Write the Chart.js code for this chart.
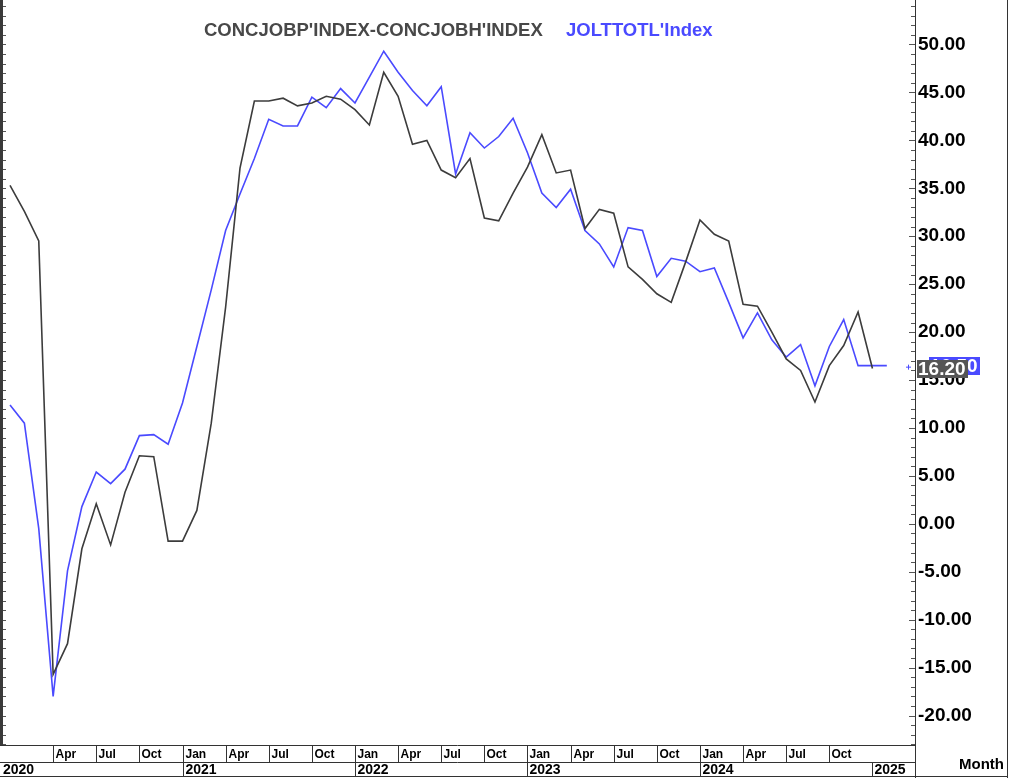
<!DOCTYPE html>
<html>
<head>
<meta charset="utf-8">
<script src="https://cdn.jsdelivr.net/npm/chart.js@4.4.1/dist/chart.umd.min.js"></script>
<style>
  html, body { margin: 0; padding: 0; background: #fff; }
  #wrap { width: 1011px; height: 778px; }
</style>
</head>
<body>
<div id="wrap"><canvas id="chart" width="1011" height="778"></canvas></div>
<script>
// monthly, Jan 2020 onwards
const spreadLabel = "CONCJOBP'INDEX-CONCJOBH'INDEX";
const joltsLabel = "JOLTTOTL'Index";

const spreadValues = [
  35.3, 32.6, 29.5, -15.7, -12.5, -2.6, 2.1, -2.2, 3.3, 7.1, 7.0, -1.8,
  -1.8, 1.4, 10.5, 22.6, 37.1, 44.1, 44.1, 44.4, 43.6, 43.9, 44.6, 44.3,
  43.2, 41.6, 47.1, 44.6, 39.6, 40.0, 36.9, 36.1, 38.1, 31.9, 31.6, 34.5,
  37.2, 40.6, 36.6, 36.9, 30.8, 32.8, 32.4, 26.8, 25.5, 24.0, 23.1, 27.3,
  31.7, 30.2, 29.5, 22.9, 22.7, 20.0, 17.2, 16.0, 12.7, 16.5, 18.6, 22.1,
  16.2
];

const joltsValues = [
  12.4, 10.5, -0.5, -18.0, -4.9, 1.8, 5.4, 4.2, 5.7, 9.2, 9.3, 8.3,
  12.6, 18.5, 24.4, 30.6, 34.4, 38.1, 42.2, 41.5, 41.5, 44.5, 43.4, 45.4,
  43.9, 46.6, 49.3, 47.1, 45.2, 43.6, 45.6, 36.5, 40.8, 39.2, 40.4, 42.3,
  38.7, 34.5, 33.0, 34.9, 30.6, 29.2, 26.8, 30.9, 30.6, 25.8, 27.7, 27.4,
  26.3, 26.7, 23.1, 19.4, 22.0, 19.2, 17.4, 18.7, 14.4, 18.5, 21.3, 16.5,
  16.5, 16.5
];

const yTicks = [-20, -15, -10, -5, 0, 5, 10, 15, 20, 25, 30, 35, 40, 45, 50];
const quarterLabels = [
  'Apr', 'Jul', 'Oct', 'Jan', 'Apr', 'Jul', 'Oct', 'Jan', 'Apr', 'Jul', 'Oct',
  'Jan', 'Apr', 'Jul', 'Oct', 'Jan', 'Apr', 'Jul', 'Oct'
];
const yearLabels = ['2020', '2021', '2022', '2023', '2024', '2025'];

const spreadColor = '#3c3c3c';
const joltsColor = '#4a4aff';

function toPoints(values) {
  return values.map((v, i) => ({ x: i, y: v }));
}

// pick the narrow font if it is installed
function pickFont(wanted, fallback) {
  const c = document.createElement('canvas').getContext('2d');
  c.font = `bold 16px ${wanted}, monospace`;
  const a = c.measureText('Apr 2020 Month').width;
  c.font = 'bold 16px monospace';
  const b = c.measureText('Apr 2020 Month').width;
  return a !== b ? wanted : fallback;
}
const narrow = pickFont('"Liberation Sans Narrow"', null);

const frame = {
  id: 'frame',
  afterDraw(chart) {
    const { ctx, chartArea: a, scales: { x, y } } = chart;
    ctx.save();

    // left edge with minor ticks
    ctx.strokeStyle = '#3a3a3a';
    ctx.lineWidth = 3;
    ctx.beginPath(); ctx.moveTo(1.5, 0); ctx.lineTo(1.5, a.bottom); ctx.stroke();
    ctx.lineWidth = 1;
    ctx.strokeStyle = '#555';
    ctx.beginPath();
    for (let v = -23; v <= 54; v++) {
      const py = Math.round(y.getPixelForValue(v)) + 0.5;
      ctx.moveTo(3, py); ctx.lineTo(6, py);
      ctx.moveTo(a.right - (v % 5 === 0 ? 6 : 4), py); ctx.lineTo(a.right, py);
    }
    ctx.stroke();

    // right axis line, outer frame
    ctx.strokeStyle = '#333';
    ctx.beginPath();
    ctx.moveTo(a.right + 0.5, 0); ctx.lineTo(a.right + 0.5, 778);
    ctx.moveTo(1007.5, 0); ctx.lineTo(1007.5, 778);
    ctx.moveTo(0, 776.5); ctx.lineTo(1008, 776.5);
    ctx.moveTo(0, a.bottom + 0.5); ctx.lineTo(a.right, a.bottom + 0.5);
    ctx.moveTo(0, 762.5); ctx.lineTo(a.right, 762.5);
    ctx.stroke();

    // time axis
    const smallFont = narrow ? `bold 15px ${narrow}` : 'bold 12px "Liberation Sans", Arial';
    const yearFont = narrow ? `bold 17px ${narrow}` : 'bold 14px "Liberation Sans", Arial';
    ctx.fillStyle = '#000';
    ctx.textBaseline = 'middle';
    ctx.textAlign = 'left';
    ctx.beginPath();
    quarterLabels.forEach((lab, k) => {
      const px = Math.round(x.getPixelForValue((k + 1) * 3)) + 0.5;
      ctx.moveTo(px, a.bottom); ctx.lineTo(px, 762);
      ctx.font = smallFont;
      ctx.fillText(lab, px + 2, 755);
    });
    yearLabels.forEach((lab, k) => {
      const px = k === 0 ? 1 : Math.round(x.getPixelForValue(k * 12)) + 0.5;
      if (k > 0) { ctx.moveTo(px, 762); ctx.lineTo(px, 777); }
      ctx.font = yearFont;
      ctx.fillText(lab, px + 2, 770);
    });
    ctx.stroke();
    ctx.font = narrow ? `bold 17px ${narrow}` : 'bold 15px "Liberation Sans", Arial';
    ctx.textAlign = 'right';
    ctx.fillText('Month', 1004, 765);

    // legend
    ctx.textAlign = 'left';
    ctx.font = 'bold 18.5px "Liberation Sans", Arial';
    ctx.fillStyle = '#484848';
    ctx.fillText(chart.data.datasets[0].label, 204, 31);
    ctx.fillStyle = joltsColor;
    ctx.fillText(chart.data.datasets[1].label, 566, 31);

    // last value flags
    const lastJ = joltsValues[joltsValues.length - 1];
    const lastS = spreadValues[spreadValues.length - 1];
    ctx.font = 'bold 19px "Liberation Sans", Arial';
    const pj = y.getPixelForValue(lastJ);
    ctx.fillStyle = joltsColor;
    ctx.fillRect(929, Math.round(pj) - 9, 51, 18);
    ctx.fillStyle = '#fff';
    ctx.fillText(lastJ.toFixed(2), 930, pj + 1);
    const ps = y.getPixelForValue(lastS);
    ctx.fillStyle = '#555';
    ctx.fillRect(917, Math.round(ps) - 9, 51, 18);
    ctx.fillStyle = '#fff';
    ctx.fillText(lastS.toFixed(2), 918, ps + 1);

    // small marker near the axis
    ctx.strokeStyle = joltsColor;
    ctx.beginPath();
    ctx.moveTo(906, pj + 1.5); ctx.lineTo(911, pj + 1.5);
    ctx.moveTo(908.5, pj - 1); ctx.lineTo(908.5, pj + 4);
    ctx.stroke();

    ctx.restore();
  }
};

new Chart(document.getElementById('chart'), {
  type: 'line',
  data: {
    datasets: [
      {
        label: spreadLabel,
        data: toPoints(spreadValues),
        borderColor: spreadColor,
        borderWidth: 1.6,
        pointRadius: 0,
        tension: 0,
      },
      {
        label: joltsLabel,
        data: toPoints(joltsValues),
        borderColor: joltsColor,
        borderWidth: 1.6,
        pointRadius: 0,
        tension: 0,
      }
    ]
  },
  options: {
    responsive: false,
    animation: false,
    layout: { padding: { left: 8, top: 0, right: 0, bottom: 33 } },
    plugins: { legend: { display: false }, tooltip: { enabled: false } },
    scales: {
      x: { type: 'linear', display: false, min: -0.14, max: 62.96 },
      y: {
        position: 'right',
        min: -23.07,
        max: 54.64,
        afterBuildTicks: s => { s.ticks = yTicks.map(v => ({ value: v })); },
        afterFit: s => {
          s.width = 96;
          // tick labels sit well inside the range, no extra room needed
          s.paddingTop = 0;
          s.paddingBottom = 0;
        },
        grid: { display: false, drawTicks: false },
        border: { display: false },
        ticks: {
          padding: 3,
          color: '#000',
          font: { family: '"Liberation Sans", Arial', size: 19, weight: 'bold' },
          callback: v => v.toFixed(2)
        }
      }
    }
  },
  plugins: [frame]
});
</script>
</body>
</html>
